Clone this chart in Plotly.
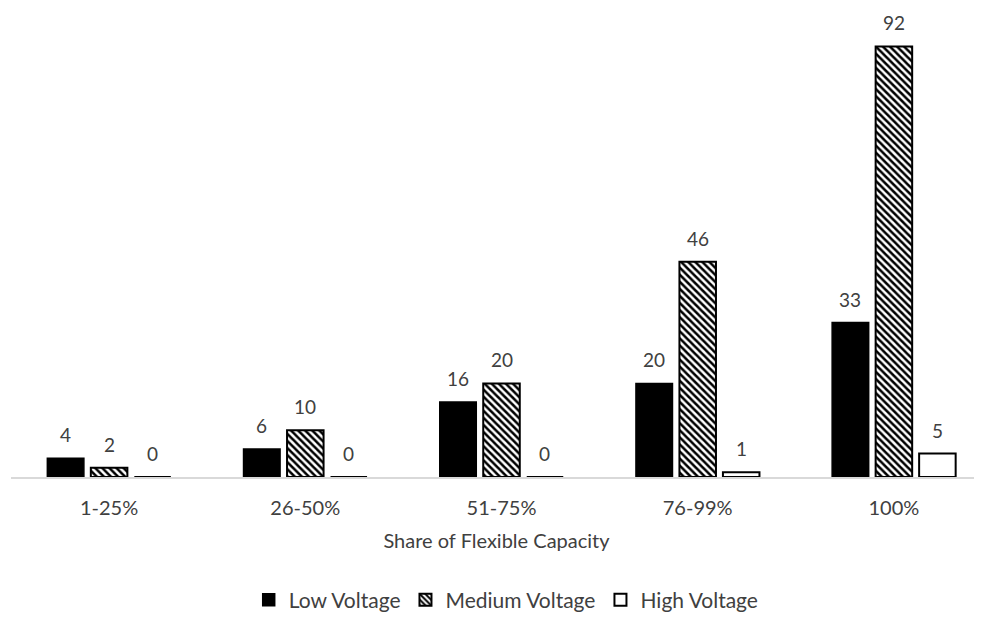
import plotly.graph_objects as go

categories = ["1-25%", "26-50%", "51-75%", "76-99%", "100%"]
low_voltage = [4, 6, 16, 20, 33]
medium_voltage = [2, 10, 20, 46, 92]
high_voltage = [0, 0, 0, 1, 5]
series_names = ["Low Voltage", "Medium Voltage", "High Voltage"]

FONT = "Lato"
TXT = "#404040"
BARGAP = 0.335

fig = go.Figure()
fig.add_bar(x=categories, y=low_voltage, name=series_names[0],
            marker=dict(color="black", line=dict(color="black", width=1.5)))
fig.add_bar(x=categories, y=medium_voltage, name=series_names[1],
            marker=dict(color="white", line=dict(color="black", width=2),
                        pattern=dict(shape="\\", fgcolor="black", bgcolor="white",
                                     size=5, solidity=0.5, fillmode="replace")))
fig.add_bar(x=categories, y=high_voltage, name=series_names[2],
            marker=dict(color="white", line=dict(color="black", width=2)))

slot = (1 - BARGAP) / 3
for k, vals in enumerate([low_voltage, medium_voltage, high_voltage]):
    for i, v in enumerate(vals):
        fig.add_annotation(x=i + (k - 1) * slot, y=v, text=str(v), showarrow=False,
                           yanchor="bottom", yshift=10,
                           font=dict(family=FONT, size=19, color=TXT))

# page body has an 8px default margin, so the figure is sized/offset to compensate
fig.update_layout(
    width=974, height=613,
    margin=dict(l=3, r=0, t=1, b=135.5),
    paper_bgcolor="white", plot_bgcolor="white",
    barmode="group", bargap=BARGAP, bargroupgap=0.16,
    font=dict(family=FONT, size=20, color=TXT),
    showlegend=True,
    legend=dict(orientation="h", x=0.51, xanchor="center", y=-0.263, yanchor="middle",
                font=dict(family=FONT, size=21, color=TXT), traceorder="normal"),
    xaxis=dict(range=[-0.5, 4.449], showline=True, linecolor="#d9d9d9", linewidth=1.5,
               ticks="", showgrid=False, ticklabelstandoff=12,
               tickfont=dict(family=FONT, size=20, color=TXT),
               title=dict(text="Share of Flexible Capacity", standoff=16,
                          font=dict(family=FONT, size=20, color=TXT))),
    yaxis=dict(range=[0, 100], visible=False, showgrid=False, zeroline=False),
)

fig.write_html("out.html")
